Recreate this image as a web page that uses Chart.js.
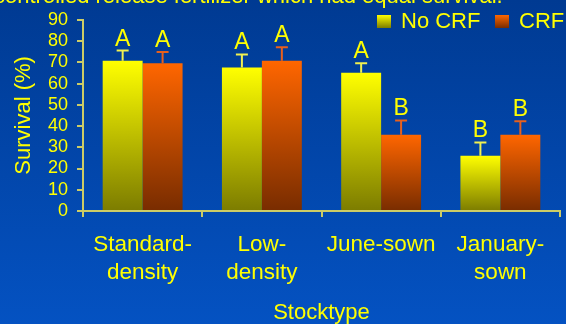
<!DOCTYPE html>
<html>
<head>
<meta charset="utf-8">
<script src="https://cdn.jsdelivr.net/npm/chart.js@4"></script>
<style>
  html, body { margin: 0; padding: 0; }
  body { width: 566px; height: 324px; overflow: hidden; }
  #c { display: block; background: linear-gradient(to bottom, #003a92, #0452c2); }
</style>
</head>
<body>
<canvas id="c" width="566" height="324"></canvas>
<script>
// data
var stocktypes = [["Standard-", "density"], ["Low-", "density"], "June-sown", ["January-", "sown"]];
var seriesNames = ["No CRF", "CRF"];
var noCrf = [70.7, 67.6, 65.1, 26.0];
var crf = [69.5, 70.7, 35.9, 35.9];
var noCrfErr = [4.8, 6.1, 4.4, 6.3];
var crfErr = [5.4, 6.4, 6.7, 6.4];
var noCrfLetters = ["A", "A", "A", "B"];
var crfLetters = ["A", "A", "B", "B"];

var FONT = "'Liberation Sans', Arial, sans-serif";
var YELLOW = "#ffff00";
var AXIS = "#cccc66";

// top colour, bottom colour, error bar colour for each series
var looks = [
  { top: "#ffff00", bottom: "#7c7c00", err: "#f0f050" },
  { top: "#ff6600", bottom: "#782c00", err: "#e8601c" }
];

function barFill(i) {
  return function (ctx) {
    var chart = ctx.chart;
    if (!chart.chartArea || ctx.raw == null) return looks[i].top;
    var y = chart.scales.y;
    var g = chart.ctx.createLinearGradient(0, y.getPixelForValue(ctx.raw), 0, y.getPixelForValue(0));
    g.addColorStop(0, looks[i].top);
    g.addColorStop(1, looks[i].bottom);
    return g;
  };
}

var errors = [noCrfErr, crfErr];
var letters = [noCrfLetters, crfLetters];

var extras = {
  id: 'extras',
  afterDatasetsDraw: function (chart) {
    var c = chart.ctx, y = chart.scales.y;
    c.save();
    chart.data.datasets.forEach(function (ds, i) {
      var meta = chart.getDatasetMeta(i);
      meta.data.forEach(function (bar, j) {
        var top = y.getPixelForValue(ds.data[j]);
        var cap = y.getPixelForValue(ds.data[j] + errors[i][j]);
        c.strokeStyle = looks[i].err;
        c.lineWidth = 2;
        c.beginPath();
        c.moveTo(bar.x, top);
        c.lineTo(bar.x, cap);
        c.moveTo(bar.x - 6, cap);
        c.lineTo(bar.x + 6, cap);
        c.stroke();
        c.fillStyle = YELLOW;
        c.font = "23px " + FONT;
        c.textAlign = "center";
        c.textBaseline = "alphabetic";
        c.fillText(letters[i][j], bar.x, cap - 5);
      });
    });

    // legend, top right
    var lx = [377, 495];
    seriesNames.forEach(function (name, i) {
      var g = c.createLinearGradient(0, 15, 0, 28);
      g.addColorStop(0, looks[i].top);
      g.addColorStop(1, looks[i].bottom);
      c.fillStyle = g;
      c.fillRect(lx[i], 15, 14, 13);
      c.fillStyle = YELLOW;
      c.font = "22px " + FONT;
      c.textAlign = "left";
      c.textBaseline = "middle";
      c.fillText(name, lx[i] + 24, 22);
    });

    // slide text cut off at the top
    c.textBaseline = "alphabetic";
    c.fillText("controlled release fertilizer which had equal survival.", -6, 3);
    c.restore();
  }
};

new Chart(document.getElementById("c"), {
  type: 'bar',
  data: {
    labels: stocktypes,
    datasets: [
      { label: seriesNames[0], data: noCrf, backgroundColor: barFill(0), borderWidth: 0 },
      { label: seriesNames[1], data: crf, backgroundColor: barFill(1), borderWidth: 0 }
    ]
  },
  options: {
    responsive: false,
    animation: false,
    devicePixelRatio: 1,
    layout: { padding: { left: 0, right: 6, top: 18, bottom: 0 } },
    datasets: { bar: { categoryPercentage: 0.67, barPercentage: 1.0 } },
    plugins: { legend: { display: false }, tooltip: { enabled: false } },
    scales: {
      x: {
        afterFit: function (s) { s.height = 113; },
        grid: { offset: true, drawOnChartArea: false, drawTicks: true, tickLength: 6, color: AXIS, lineWidth: 2 },
        border: { color: AXIS, width: 2 },
        ticks: { color: YELLOW, padding: 14, maxRotation: 0, autoSkip: false,
                 font: { family: FONT, size: 22.5, lineHeight: 1.25 } },
        title: { display: true, text: "Stocktype", color: YELLOW, padding: 0,
                 font: { family: FONT, size: 22, lineHeight: 1 } }
      },
      y: {
        min: 0, max: 90,
        afterFit: function (s) { s.width = 83; },
        grid: { drawOnChartArea: false, drawTicks: true, tickLength: 6, color: AXIS, lineWidth: 2 },
        border: { color: AXIS, width: 2 },
        ticks: { stepSize: 10, autoSkip: false, color: YELLOW, padding: 9, font: { family: FONT, size: 18 } },
        title: { display: true, text: "Survival (%)", color: YELLOW, padding: { top: 13 },
                 font: { family: FONT, size: 22, lineHeight: 1 } }
      }
    }
  },
  plugins: [extras]
});
</script>
</body>
</html>
